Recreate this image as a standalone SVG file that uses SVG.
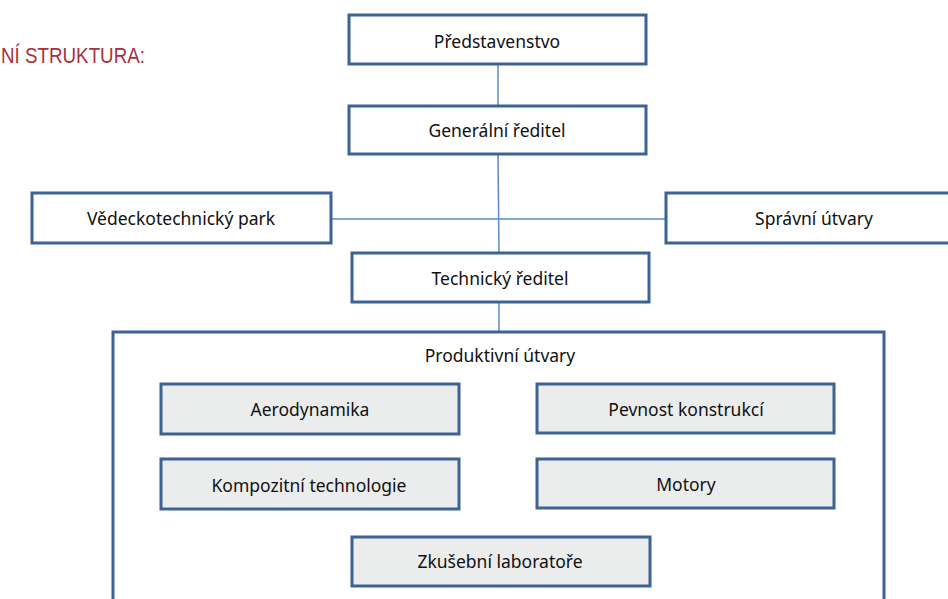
<svg xmlns="http://www.w3.org/2000/svg" width="948" height="599" viewBox="0 0 948 599">
<style>
.box{fill:#ffffff;stroke:#3D6394;stroke-width:3}
.sub{fill:#EBEDED;stroke:#3D6394;stroke-width:3}
.lbl{font-family:"Noto Sans","Open Sans",sans-serif;font-size:17.5px;fill:#111111;text-anchor:middle}
.con{stroke:#5B8BC8;stroke-width:1.5;fill:none}
.title{font-family:"Liberation Sans",sans-serif;font-size:22px;fill:#A8313A}
</style>
<rect width="948" height="599" fill="#ffffff"/>
<text class="title" x="1" y="63" textLength="144" lengthAdjust="spacingAndGlyphs">NÍ STRUKTURA:</text>
<g id="connectors">
<line class="con" x1="498" y1="64" x2="498" y2="106"/>
<line class="con" x1="498" y1="154" x2="499" y2="253"/>
<line class="con" x1="331" y1="219" x2="666" y2="219"/>
<line class="con" x1="499" y1="302" x2="499" y2="332"/>
</g>
<g id="predstavenstvo"><rect class="box" x="349" y="15" width="297" height="49"/><text class="lbl" x="497" y="48">Představenstvo</text></g>
<g id="generalni"><rect class="box" x="349" y="106" width="297" height="48"/><text class="lbl" x="497" y="137">Generální ředitel</text></g>
<g id="vedecko"><rect class="box" x="32" y="193" width="299" height="50"/><text class="lbl" x="181" y="225">Vědeckotechnický park</text></g>
<g id="spravni"><rect class="box" x="666" y="193" width="300" height="50"/><text class="lbl" x="814" y="225">Správní útvary</text></g>
<g id="technicky"><rect class="box" x="352" y="253" width="297" height="49"/><text class="lbl" x="500" y="285">Technický ředitel</text></g>
<g id="produktivni"><rect class="box" x="113" y="332" width="771" height="290"/><text class="lbl" x="500" y="362">Produktivní útvary</text></g>
<g id="aerodynamika"><rect class="sub" x="161" y="384" width="298" height="50"/><text class="lbl" x="310" y="416">Aerodynamika</text></g>
<g id="pevnost"><rect class="sub" x="537" y="384" width="297" height="49"/><text class="lbl" x="686" y="416">Pevnost konstrukcí</text></g>
<g id="kompozitni"><rect class="sub" x="161" y="459" width="298" height="50"/><text class="lbl" x="309" y="492">Kompozitní technologie</text></g>
<g id="motory"><rect class="sub" x="537" y="459" width="297" height="49"/><text class="lbl" x="686" y="491">Motory</text></g>
<g id="zkusebni"><rect class="sub" x="352" y="537" width="298" height="49"/><text class="lbl" x="500" y="568">Zkušební laboratoře</text></g>
</svg>
